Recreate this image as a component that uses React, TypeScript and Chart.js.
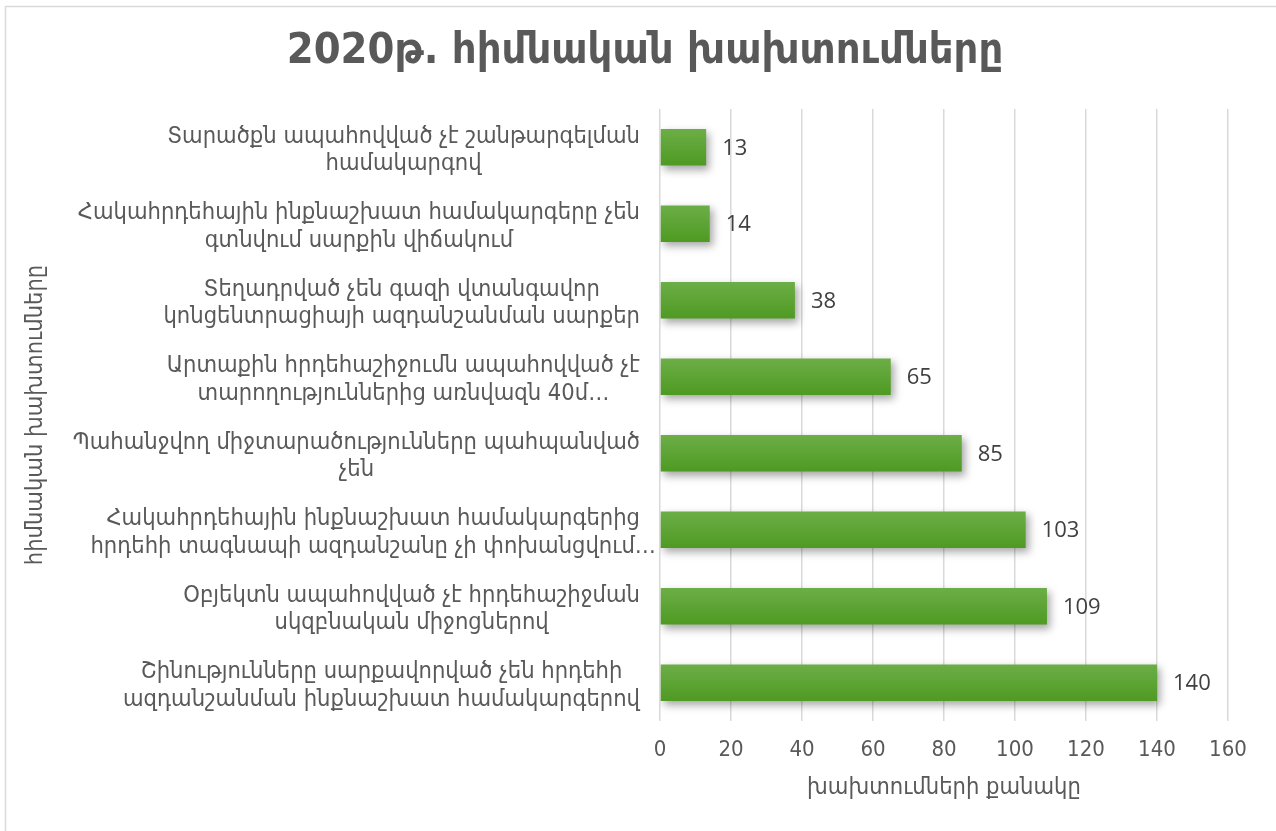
import React, { useEffect, useRef } from "react";
import { Chart, registerables } from "chart.js";

Chart.register(...registerables);

const TITLE = "2020թ. հիմնական խախտումները";
const X_TITLE = "խախտումների քանակը";
const Y_TITLE = "հիմնական խախտումները";

const CATEGORIES: string[][] = [
  ["Տարածքն ապահովված չէ շանթարգելման", "համակարգով"],
  ["Հակահրդեհային ինքնաշխատ համակարգերը չեն", "գտնվում սարքին վիճակում"],
  ["Տեղադրված չեն գազի վտանգավոր", "կոնցենտրացիայի ազդանշանման սարքեր"],
  ["Արտաքին հրդեհաշիջումն ապահովված չէ", "տարողություններից առնվազն 40մ…"],
  ["Պահանջվող միջտարածությունները պահպանված", "չեն"],
  ["Հակահրդեհային ինքնաշխատ համակարգերից", "հրդեհի տագնապի ազդանշանը չի փոխանցվում…"],
  ["Օբյեկտն ապահովված չէ հրդեհաշիջման", "սկզբնական միջոցներով"],
  ["Շինությունները սարքավորված չեն հրդեհի", "ազդանշանման ինքնաշխատ համակարգերով"],
];

const VALUES: number[] = [13, 14, 38, 65, 85, 103, 109, 140];

const X_TICKS: number[] = [0, 20, 40, 60, 80, 100, 120, 140, 160];

const FONT_ARM = '"DejaVu Sans Condensed", "DejaVu Sans", sans-serif';
const FONT_NUM = '"Liberation Sans Narrow", "DejaVu Sans Condensed", sans-serif';
const FONT_LABEL = '"Open Sans", "Noto Sans", sans-serif';
const GREY = "#595959";

const decorPlugin = {
  id: "decor",
  beforeDatasetsDraw(chart: any) {
    const c = chart.ctx;
    c.save();
    c.shadowColor = "rgba(0,0,0,0.35)";
    c.shadowBlur = 8;
    c.shadowOffsetX = 3;
    c.shadowOffsetY = 4;
  },
  afterDatasetsDraw(chart: any) {
    chart.ctx.restore();
  },
  afterDraw(chart: any) {
    const c = chart.ctx;
    const ys = chart.scales.y;
    const xs = chart.scales.x;
    c.save();
    // outer border
    c.strokeStyle = "#d9d9d9";
    c.lineWidth = 1.5;
    c.beginPath();
    c.moveTo(5.5, 831);
    c.lineTo(5.5, 6.5);
    c.lineTo(1276, 6.5);
    c.stroke();

    // title
    c.fillStyle = GREY;
    c.font = `bold 43px ${FONT_ARM}`;
    c.textAlign = "center";
    c.textBaseline = "middle";
    c.fillText(TITLE, 645, 52);

    // category labels
    c.font = `23.5px ${FONT_ARM}`;
    const lh = 27.5;
    CATEGORIES.forEach((lines, i) => {
      const py = ys.getPixelForTick(i);
      const widths = lines
        .filter((l) => !l.endsWith("…"))
        .map((l) => c.measureText(l).width);
      const w = Math.max(...widths);
      const cx = xs.left - 20 - w / 2;
      const top = py + 3 - ((lines.length - 1) * lh) / 2;
      lines.forEach((l, j) => c.fillText(l, cx, top + j * lh));
    });

    // data labels
    const meta = chart.getDatasetMeta(0);
    c.font = `22px ${FONT_LABEL}`;
    c.fillStyle = "#404040";
    c.textAlign = "left";
    meta.data.forEach((bar: any, i: number) => {
      c.fillText(String(VALUES[i]), bar.x + 16, bar.y + 1);
    });
    c.restore();
  },
};

export default function App() {
  const ref = useRef<HTMLCanvasElement | null>(null);

  useEffect(() => {
    if (!ref.current) return;
    const chart = new Chart(ref.current, {
      type: "bar",
      data: {
        labels: CATEGORIES.map((l) => l.join(" ")),
        datasets: [
          {
            data: VALUES,
            borderWidth: 0,
            categoryPercentage: 1,
            barPercentage: 0.48,
            backgroundColor: (ctx: any) => {
              const ch = ctx.chart;
              const ys = ch.scales && ch.scales.y;
              if (!ys || ctx.type !== "data") return "#5ba433";
              const py = ys.getPixelForValue(ctx.dataIndex);
              const h = (ys.height / VALUES.length) * 0.48;
              if (!isFinite(py) || !isFinite(h) || h <= 0) return "#5ba433";
              const g = ch.ctx.createLinearGradient(0, py - h / 2, 0, py + h / 2);
              g.addColorStop(0, "#6cae47");
              g.addColorStop(1, "#4e9a22");
              return g;
            },
          },
        ],
      },
      options: {
        indexAxis: "y",
        animation: false,
        responsive: true,
        maintainAspectRatio: false,
        layout: { padding: { top: 109, right: 48, left: 0, bottom: 0 } },
        plugins: {
          legend: { display: false },
          title: { display: false },
          tooltip: { enabled: false },
        },
        scales: {
          x: {
            type: "linear",
            min: 0,
            max: 160,
            afterBuildTicks: (s: any) => {
              s.ticks = X_TICKS.map((v) => ({ value: v }));
            },
            afterFit: (s: any) => {
              s.height = 110;
            },
            ticks: {
              color: GREY,
              font: { family: FONT_NUM, size: 22 },
              padding: 16,
            },
            grid: { color: "#d9d9d9", lineWidth: 1.5, drawTicks: false },
            border: { display: false },
            title: {
              display: true,
              text: X_TITLE,
              color: GREY,
              font: { family: FONT_ARM, size: 23.5 },
              padding: { top: 0, bottom: 29 },
            },
          },
          y: {
            type: "category",
            afterFit: (s: any) => {
              s.width = 660;
            },
            ticks: { display: false },
            grid: { display: false },
            border: { display: false },
            title: {
              display: true,
              text: Y_TITLE,
              color: GREY,
              font: { family: FONT_ARM, size: 23.5 },
              padding: { top: 22, bottom: 0 },
            },
          },
        },
      },
      plugins: [decorPlugin],
    } as any);
    return () => chart.destroy();
  }, []);

  return (
    <div style={{ position: "fixed", left: 0, top: 0, width: 1276, height: 831, background: "#fff" }}>
      <canvas ref={ref} />
    </div>
  );
}
